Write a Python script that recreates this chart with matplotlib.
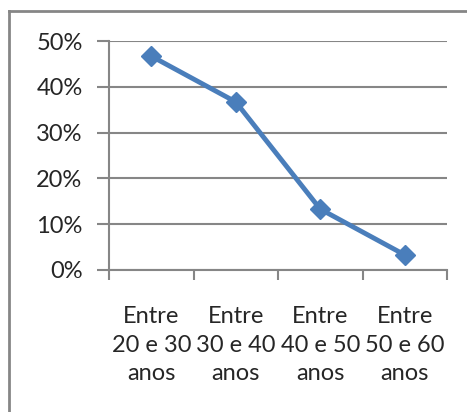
import matplotlib.pyplot as plt
from matplotlib.lines import Line2D
from matplotlib.ticker import FuncFormatter

categorias = ['Entre\n20 e 30\nanos', 'Entre\n30 e 40\nanos', 'Entre\n40 e 50\nanos', 'Entre\n50 e 60\nanos']
valores = [0.467, 0.367, 0.133, 0.033]
ticks_y = [0, 0.1, 0.2, 0.3, 0.4, 0.5]

plt.rcParams['font.family'] = 'Lato'

fig = plt.figure(figsize=(4.67, 4.12), dpi=100)
ax = fig.add_axes([109/467, 1 - 270/412, (447 - 109)/467, (270 - 41)/412])

x = range(len(valores))
ax.plot(x, valores, color='#4a7ebb', lw=3.5, marker='D', ms=10, mec='#4a7ebb', mfc='#4a7ebb')

ax.set_xlim(-0.5, len(valores) - 0.5)
ax.set_ylim(0, 0.5)
ax.set_yticks(ticks_y)
ax.yaxis.set_major_formatter(FuncFormatter(lambda v, p: f'{v*100:.0f}%'))
ax.set_xticks([i + 0.5 for i in range(-1, len(valores))], minor=False)
ax.set_xticklabels([])
ax.set_xticks(list(x), minor=True)
ax.set_xticklabels(categorias, minor=True, fontsize=17, linespacing=1.45, color='#262626')
ax.tick_params(axis='x', which='minor', length=0, pad=26)
ax.tick_params(axis='x', which='major', length=7, color='#868686', width=1.5)
ax.tick_params(axis='y', length=9, color='#868686', width=1.5, labelsize=17, labelcolor='#262626', pad=10)

ax.grid(axis='y', color='#868686', lw=1.5)
ax.set_axisbelow(True)
for s in ['top', 'right']:
    ax.spines[s].set_visible(False)
ax.spines['left'].set_color('#868686')
ax.spines['left'].set_linewidth(1.5)
ax.spines['bottom'].set_color('#868686')
ax.spines['bottom'].set_linewidth(1.5)

# moldura
fig.add_artist(Line2D([8.5/467, 8.5/467], [0, 1 - 10.5/412], color='#868686', lw=2))
fig.add_artist(Line2D([8.5/467, 1], [1 - 10.5/412, 1 - 10.5/412], color='#868686', lw=2))

fig.savefig('out.png', dpi=100)
